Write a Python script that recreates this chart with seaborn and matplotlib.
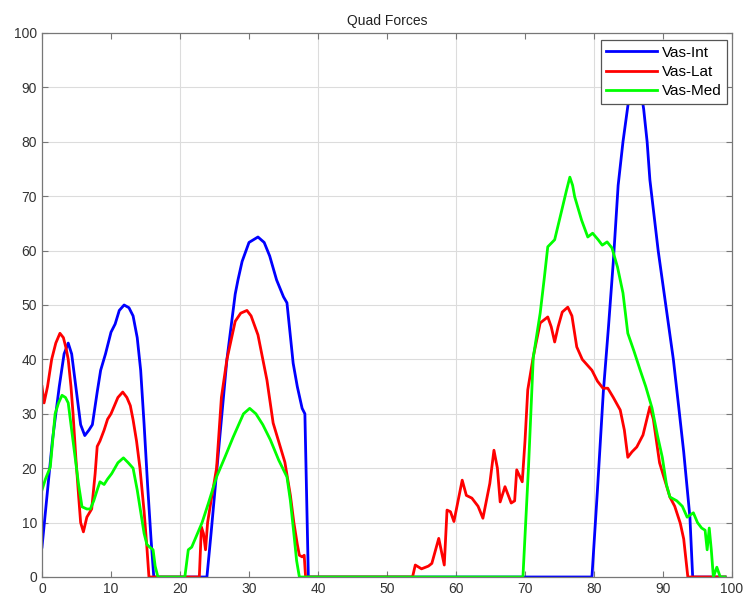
import matplotlib
matplotlib.use("Agg")
import matplotlib.pyplot as plt
import pandas as pd
import seaborn as sns

plt.rcParams["font.family"] = ["Liberation Sans", "DejaVu Sans"]

# Vastus intermedius force over the gait cycle
int_x = [0, 0.5, 1.5, 2.0, 2.5, 3.2, 3.8, 4.3, 5.0, 5.6, 6.2, 6.8, 7.3, 8.0, 8.5, 9.2,
         10.0, 10.6, 11.2, 11.9, 12.6, 13.2, 13.8, 14.3, 14.8, 15.3, 15.8, 16.2,
         23.9, 24.5, 25.5, 26.8, 28.0, 28.4, 29.0, 30.0, 31.3, 32.2, 33.0, 34.0, 35.0,
         35.5, 36.4, 37.0, 37.7, 38.1, 38.6,
         79.7, 80.5, 81.35, 82.1, 82.8, 83.5, 84.2, 84.95, 85.5, 85.9, 86.6, 87.2, 87.7,
         88.1, 89.3, 90.4, 91.5, 92.3, 93.0, 93.9, 94.3, 99.0]
int_y = [5.5, 12, 25, 30, 35, 41, 43, 41, 34, 28, 26, 27, 28, 34, 38, 41,
         45, 46.5, 49, 50, 49.5, 48, 44, 38, 28, 17, 7, 0,
         0, 8, 22, 40, 52, 54.6, 58, 61.5, 62.5, 61.5, 59, 54.6, 51.5,
         50.4, 39.3, 35, 31, 30, 0,
         0, 16, 34, 46, 58, 72, 80, 87, 91, 93, 91, 86, 80,
         73, 60, 50, 40, 31, 23, 11, 0, 0]

# Vastus lateralis force
lat_x = [0, 0.3, 0.8, 1.4, 2.0, 2.6, 3.1, 3.5, 3.8, 4.2, 4.5, 4.9, 5.3, 5.6, 6.0, 6.5,
         7.2, 7.7, 8.0, 8.4, 9.0, 9.5, 10.0, 10.5, 11.0, 11.7, 12.3, 12.8, 13.2, 13.7,
         14.2, 14.8, 15.2, 15.5,
         22.8, 23.1, 23.4, 23.7, 24.0, 24.5, 25.3, 26.0, 26.8, 28.0, 28.8, 29.7, 30.3,
         31.3, 32.6, 33.5, 35.2, 36.0, 36.5, 37.0, 37.3, 37.7, 38.0, 38.2,
         53.7, 54.1, 55.0, 56.0, 56.5, 57.5, 58.3, 58.7, 59.2, 59.7, 60.9, 61.5, 62.3,
         63.2, 63.9, 64.9, 65.5, 66.0, 66.4, 67.1, 68.0, 68.5, 68.8, 69.6, 70.0, 70.4,
         71.2, 72.2, 73.3, 73.8, 74.3, 74.8, 75.4, 76.2, 76.8, 77.5, 78.3, 79.0, 79.7,
         80.5, 81.3, 82.0, 82.8, 83.8, 84.4, 84.9, 85.5, 86.2, 87.1, 88.1, 88.6, 89.5,
         91.0, 91.7, 92.5, 93.0, 93.6, 99.0]
lat_y = [35, 32, 35, 40, 43, 44.8, 44, 42, 40, 35, 30, 22, 15, 10, 8.3, 11,
         12.5, 19, 24, 25, 27, 29, 30, 31.5, 33, 34, 33, 31.5, 28.9, 25,
         20, 12, 5.5, 0,
         0, 9.2, 8, 5, 10, 14, 20, 33, 40, 47, 48.5, 49, 48,
         44.5, 36.2, 28.3, 21.1, 15, 10, 6, 4, 3.7, 4, 0,
         0, 2.2, 1.5, 2, 2.5, 7.1, 2.2, 12.3, 12, 10.2, 17.8, 15, 14.5,
         13, 10.8, 17.2, 23.3, 20, 13.8, 16.6, 13.6, 14, 19.7, 17.5, 25, 34.4,
         40.5, 46.7, 47.8, 46, 43.2, 46, 48.7, 49.6, 48, 42.3, 40, 39, 38,
         36, 34.7, 34.7, 33, 30.7, 27, 22, 23, 23.9, 26.1, 31.3, 29, 21,
         14.7, 13, 9.9, 7, 0, 0]

# Vastus medialis force
med_x = [0, 0.5, 1.2, 1.9, 2.4, 2.9, 3.4, 3.8, 4.3, 4.8, 5.3, 5.8, 6.5, 7.0, 7.5, 8.0,
         8.4, 9.0, 9.5, 10.1, 11.0, 11.8, 12.5, 13.2, 13.8, 14.3, 14.8, 15.2, 15.6,
         16.1, 16.4, 16.8,
         20.7, 21.2, 21.7, 22.2, 23.2, 24.1, 25.3, 26.5, 27.7, 28.5, 29.2, 30.1, 31.0,
         32.0, 33.1, 34.3, 35.5, 36.0, 36.5, 36.9, 37.3,
         69.7, 70.5, 71.2, 72.2, 72.8, 73.3, 74.3, 75.4, 76.0, 76.5, 76.9, 77.2, 78.2,
         79.1, 79.8, 80.6, 81.2, 81.9, 82.6, 83.4, 84.2, 84.9, 85.8, 86.7, 87.5, 88.4,
         89.2, 89.9, 90.5, 91.0, 92.0, 92.8, 93.5, 94.4, 95.0, 95.6, 96.1, 96.4, 96.7,
         97.0, 97.3, 97.8, 98.3, 99.0]
med_y = [16, 18, 20.2, 30, 32, 33.4, 33, 32, 27, 22, 17, 12.9, 12.5, 12.5, 14, 16,
         17.5, 17, 18, 19, 21, 21.9, 21, 20, 16, 12, 8, 6, 5.5,
         5, 2, 0,
         0, 5, 5.5, 7, 10, 13.5, 18.4, 22, 25.7, 28, 30, 31, 30,
         28, 25.2, 21.5, 18.4, 14, 8, 3, 0,
         0, 20, 40.4, 48.5, 55, 60.7, 62, 67.8, 71, 73.5, 72, 69.9, 65.6,
         62.5, 63.2, 62, 61, 61.6, 60.5, 57, 52.2, 44.8, 41.5, 38, 35, 31.1,
         26, 22, 17, 14.7, 14, 13, 11, 11.8, 10, 9, 8.6, 5, 9,
         5, 0, 1.8, 0, 0]

muscles = ["Vas-Int", "Vas-Lat", "Vas-Med"]
colors = ["#0000ff", "#ff0000", "#00ff00"]

frames = []
for name, xs, ys in zip(muscles, [int_x, lat_x, med_x], [int_y, lat_y, med_y]):
    frames.append(pd.DataFrame({"pct": xs, "force": ys, "muscle": name}))
df = pd.concat(frames, ignore_index=True)

fig = plt.figure(figsize=(7.47, 6.0), dpi=100)
ax = fig.add_axes([42 / 747, 23 / 600, 690 / 747, 544 / 600])

sns.lineplot(data=df, x="pct", y="force", hue="muscle", hue_order=muscles,
             palette=dict(zip(muscles, colors)), estimator=None, sort=False,
             linewidth=2.0, ax=ax)

ax.set_xlim(0, 100)
ax.set_ylim(0, 100)
ax.set_xticks(range(0, 101, 10))
ax.set_yticks(range(0, 101, 10))
ax.set_xlabel("")
ax.set_ylabel("")
ax.set_title("Quad Forces", fontsize=10, pad=6, color="#222222")

# grid: horizontal at every tick, vertical every 20
for v in range(10, 100, 10):
    ax.axhline(v, color="#dcdcdc", linewidth=0.8, zorder=0)
for v in range(20, 100, 20):
    ax.axvline(v, color="#dcdcdc", linewidth=0.8, zorder=0)

ax.tick_params(direction="in", length=4, width=0.8, colors="#777777",
               labelcolor="#333333", labelsize=10, top=True, right=True)
for s in ax.spines.values():
    s.set_color("#777777")
    s.set_linewidth(0.9)

handles, labels = ax.get_legend_handles_labels()
leg = ax.legend(handles, labels, loc="upper right", bbox_to_anchor=(0.9928, 0.987),
                borderaxespad=0, fancybox=False, framealpha=1, edgecolor="#555555",
                fontsize=11, handlelength=3.3, handletextpad=0.33, labelspacing=0.35,
                borderpad=0.36)
leg.get_frame().set_linewidth(0.9)

fig.savefig("out.png", dpi=100)
